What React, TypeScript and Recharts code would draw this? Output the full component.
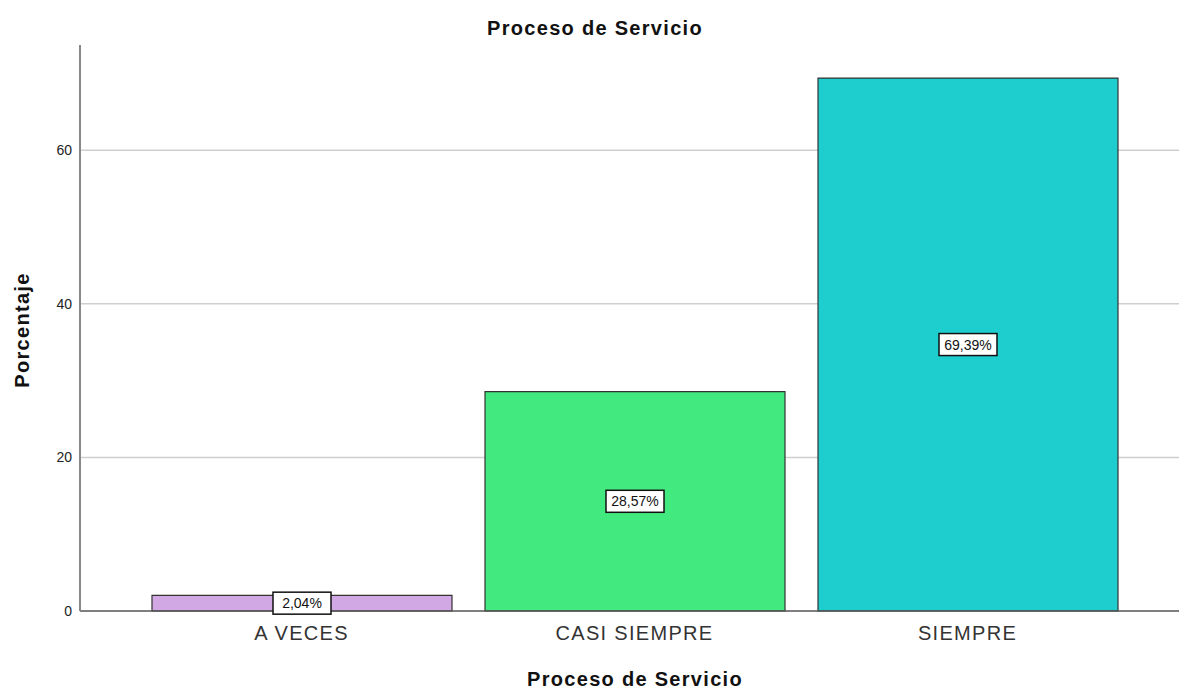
import { Bar, BarChart, CartesianGrid, Cell, LabelList, XAxis, YAxis } from "recharts";

const categories = ["A VECES", "CASI SIEMPRE", "SIEMPRE"];
const percentages = [2.04, 28.57, 69.39];
const barColors = ["#d1a8e3", "#42e97e", "#1ecece"];
const yTicks = [0, 20, 40, 60];
const gridValues = [20, 40, 60];

const data = categories.map((name, i) => ({ name, value: percentages[i] }));

const font = "'Liberation Sans', Arial, sans-serif";

const pct = (v: number) => `${v.toFixed(2).replace(".", ",")}%`;

const BoxLabel = (props: any) => {
    const { x, y, width, height, value } = props;
    const cx = Number(x) + Number(width) / 2;
    const cy = Number(y) + Number(height) / 2;
    const w = 58;
    const h = 22;
    return (
        <g>
            <rect x={cx - w / 2} y={cy - h / 2} width={w} height={h} fill="#fff" stroke="#111" strokeWidth={1.5} />
            <text x={cx} y={cy + 5} textAnchor="middle" fontSize={14} fontFamily={font} fill="#111">
                {pct(Number(value))}
            </text>
        </g>
    );
};

const App = () => {
    return (
        <div style={{ position: "absolute", left: 0, top: 0, width: 1179, height: 690, background: "#fff", fontFamily: font }}>
            <div style={{ position: "absolute", left: 0, width: 1190, top: 17, textAlign: "center", fontSize: 20, fontWeight: 700, letterSpacing: 1.3, color: "#111" }}>
                Proceso de Servicio
            </div>
            <BarChart width={1179} height={690} data={data} margin={{ top: 45, right: 0, bottom: 0, left: 0 }}>
                <CartesianGrid vertical={false} horizontalValues={gridValues} stroke="#cfcfcf" strokeWidth={1.5} />
                <XAxis
                    dataKey="name"
                    height={79}
                    padding={{ left: 55, right: 45 }}
                    tickLine={false}
                    tickSize={0}
                    tickMargin={15}
                    stroke="#555"
                    strokeWidth={1.5}
                    tick={{ fontSize: 20, fill: "#333", fontFamily: font, letterSpacing: 1.3 }}
                />
                <YAxis
                    width={80}
                    domain={[0, 73.7]}
                    ticks={yTicks}
                    tickLine={false}
                    tickSize={0}
                    tickMargin={8}
                    stroke="#888"
                    strokeWidth={2}
                    tick={{ fontSize: 14, fill: "#222", fontFamily: font }}
                />
                <Bar dataKey="value" barSize={300} stroke="#333" strokeWidth={1.2} isAnimationActive={false}>
                    {data.map((d, i) => (
                        <Cell key={d.name} fill={barColors[i]} />
                    ))}
                    <LabelList dataKey="value" content={BoxLabel} />
                </Bar>
            </BarChart>
            <div style={{ position: "absolute", left: 0, width: 1270, top: 668, textAlign: "center", fontSize: 20, fontWeight: 700, letterSpacing: 1.3, color: "#111" }}>
                Proceso de Servicio
            </div>
            <div
                style={{
                    position: "absolute",
                    left: 22,
                    top: 330,
                    transform: "translate(-50%, -50%) rotate(-90deg)",
                    fontSize: 20,
                    fontWeight: 700,
                    letterSpacing: 1.3,
                    color: "#111",
                    whiteSpace: "nowrap",
                }}
            >
                Porcentaje
            </div>
        </div>
    );
};

export default App;
